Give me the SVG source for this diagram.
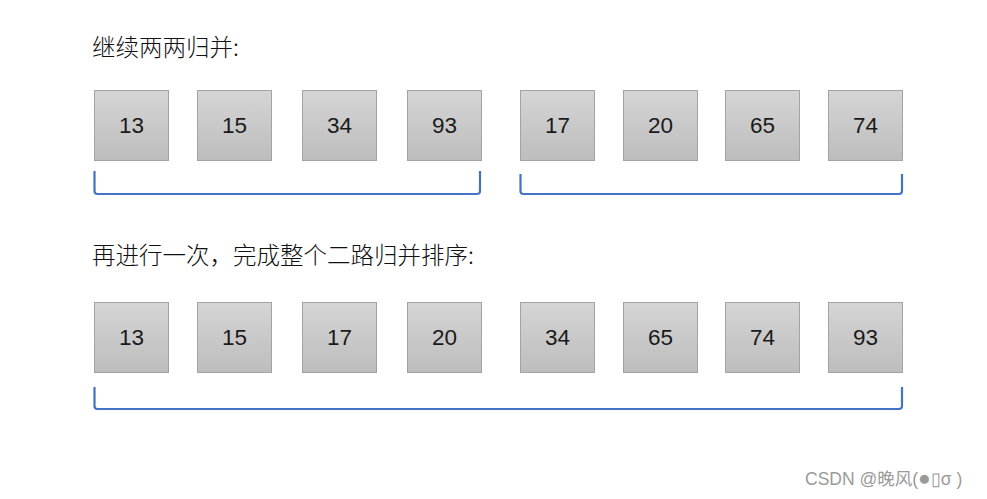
<svg xmlns="http://www.w3.org/2000/svg" width="987" height="499" viewBox="0 0 987 499">
<defs>
<linearGradient id="g" x1="0" y1="0" x2="0" y2="1">
<stop offset="0" stop-color="#d5d5d5"/>
<stop offset="1" stop-color="#bdbdbd"/>
</linearGradient>
</defs>
<style>
.b rect{fill:url(#g);stroke:#a3a3a3;stroke-width:1}
.b text{font-family:"Liberation Sans","Noto Sans CJK SC",sans-serif;font-size:22.5px;fill:#1a1a1a;text-anchor:middle}
.t{font-family:"Noto Sans CJK SC","Liberation Sans",sans-serif;font-size:23.5px;font-weight:300;fill:#111}
.c path{fill:none;stroke:#4472c4;stroke-width:2.2}
.w{font-family:"Liberation Sans","Noto Sans CJK SC",sans-serif;font-size:17.5px;fill:#9a9a9a}
</style>
<rect width="987" height="499" fill="#fff"/>
<text class="t" x="92" y="56">继续两两归并:</text>
<text class="t" x="92" y="264">再进行一次，完成整个二路归并排序:</text>
<g id="r1n1" class="b"><rect x="94.5" y="90.5" width="74" height="70"/><text x="131.5" y="133">13</text></g>
<g id="r1n2" class="b"><rect x="197.5" y="90.5" width="74" height="70"/><text x="234.5" y="133">15</text></g>
<g id="r1n3" class="b"><rect x="302.5" y="90.5" width="74" height="70"/><text x="339.5" y="133">34</text></g>
<g id="r1n4" class="b"><rect x="407.5" y="90.5" width="74" height="70"/><text x="444.5" y="133">93</text></g>
<g id="r1n5" class="b"><rect x="520.5" y="90.5" width="74" height="70"/><text x="557.5" y="133">17</text></g>
<g id="r1n6" class="b"><rect x="623.5" y="90.5" width="74" height="70"/><text x="660.5" y="133">20</text></g>
<g id="r1n7" class="b"><rect x="725.5" y="90.5" width="74" height="70"/><text x="762.5" y="133">65</text></g>
<g id="r1n8" class="b"><rect x="828.5" y="90.5" width="74" height="70"/><text x="865.5" y="133">74</text></g>
<g id="r2n1" class="b"><rect x="94.5" y="302.5" width="74" height="70"/><text x="131.5" y="345">13</text></g>
<g id="r2n2" class="b"><rect x="197.5" y="302.5" width="74" height="70"/><text x="234.5" y="345">15</text></g>
<g id="r2n3" class="b"><rect x="302.5" y="302.5" width="74" height="70"/><text x="339.5" y="345">17</text></g>
<g id="r2n4" class="b"><rect x="407.5" y="302.5" width="74" height="70"/><text x="444.5" y="345">20</text></g>
<g id="r2n5" class="b"><rect x="520.5" y="302.5" width="74" height="70"/><text x="557.5" y="345">34</text></g>
<g id="r2n6" class="b"><rect x="623.5" y="302.5" width="74" height="70"/><text x="660.5" y="345">65</text></g>
<g id="r2n7" class="b"><rect x="725.5" y="302.5" width="74" height="70"/><text x="762.5" y="345">74</text></g>
<g id="r2n8" class="b"><rect x="828.5" y="302.5" width="74" height="70"/><text x="865.5" y="345">93</text></g>
<g id="connectors" class="c">
<path d="M94.5 171 V191 Q94.5 194 97.5 194 H477 Q480 194 480 191 V171"/>
<path d="M520.5 174 V191 Q520.5 194 523.5 194 H899 Q902 194 902 191 V174"/>
<path d="M94.5 387 V406 Q94.5 409 97.5 409 H899 Q902 409 902 406 V387"/>
</g>
<text class="w" x="805" y="485">CSDN @晚风(<tspan font-size="21">●</tspan>▯σ )</text>
</svg>
